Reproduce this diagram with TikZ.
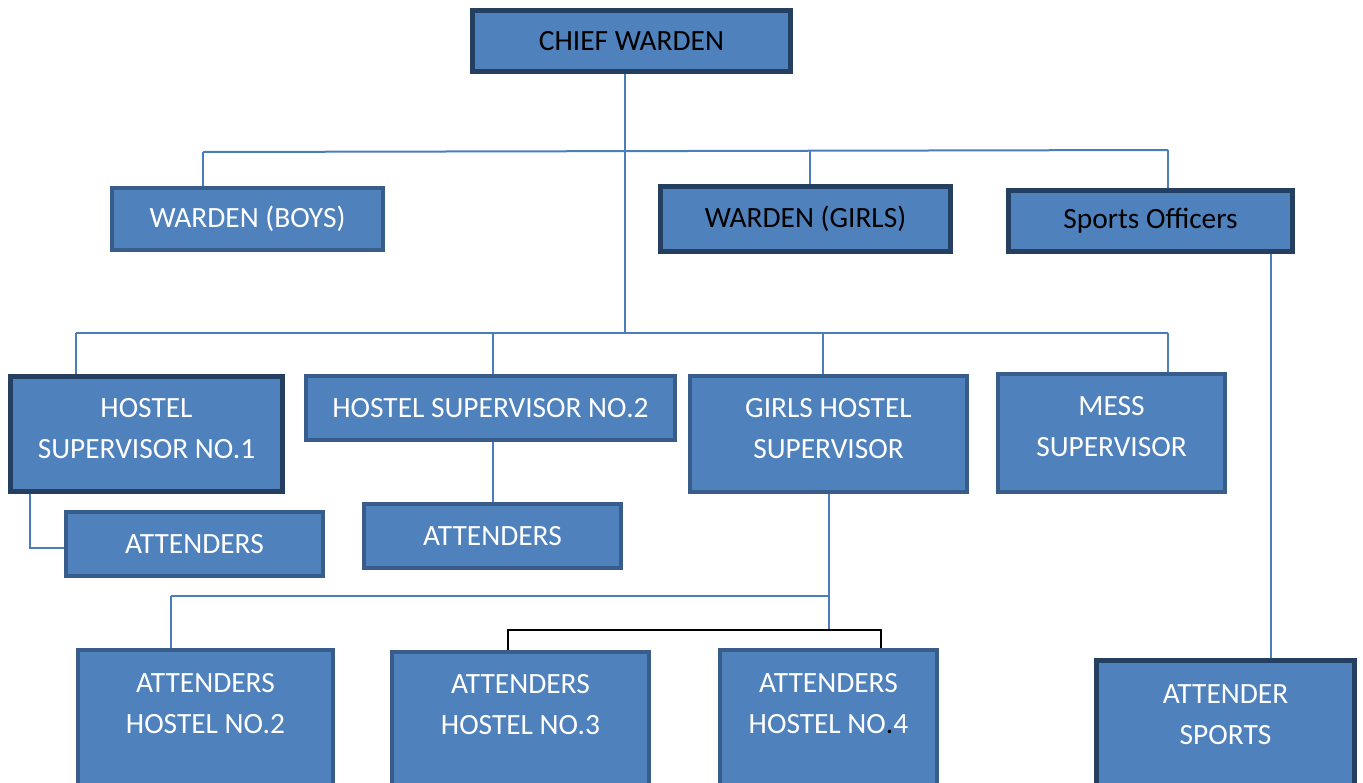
\documentclass[tikz,border=0pt]{standalone}
\usepackage{fontspec}
\setmainfont{Carlito}
\usepackage{tikz}
\usetikzlibrary{positioning}

\definecolor{boxfill}{HTML}{4F81BD}
\definecolor{darkedge}{HTML}{243F60}
\definecolor{midedge}{HTML}{385D8A}
\definecolor{linkblue}{HTML}{4A7EBB}

\begin{document}
\begin{tikzpicture}[x=1pt,y=-1pt]
\tikzstyle{post}=[rectangle, fill=boxfill, align=center, text=white,
  font=\fontsize{29.4}{41}\selectfont, inner sep=0pt]
\tikzstyle{heavy}=[post, draw=darkedge, line width=5pt]
\tikzstyle{light}=[post, draw=midedge, line width=4pt]
\tikzstyle{link}=[draw=linkblue, line width=2pt]
\tikzstyle{blacklink}=[draw=black, line width=2pt]
\path[use as bounding box] (0,0) rectangle (1363,782);
\clip (0,0) rectangle (1363,782);

% top
\node[heavy, text=black, minimum width=318pt, minimum height=61pt] (chief) at (631.5,41) {CHIEF WARDEN};

% wardens
\node[light, minimum width=271pt, minimum height=62pt] (boys) at (247.5,219) {WARDEN (BOYS)};
\node[heavy, text=black, minimum width=290pt, minimum height=65pt] (girls) at (805.5,219) {WARDEN (GIRLS)};
\node[heavy, text=black, minimum width=284pt, minimum height=61pt] (sports) at (1150.5,221) {Sports Officers};

% supervisors
\node[heavy, minimum width=272pt, minimum height=115pt, text depth=12pt] (hs1) at (146.5,434) {HOSTEL\\SUPERVISOR NO.1};
\node[light, minimum width=369pt, minimum height=64pt] (hs2) at (490.5,408) {HOSTEL SUPERVISOR NO.2};
\node[light, minimum width=277pt, minimum height=116pt, text depth=12pt] (ghs) at (828.5,434) {GIRLS HOSTEL\\SUPERVISOR};
\node[light, minimum width=227pt, minimum height=118pt, text depth=14pt] (mess) at (1111.5,433) {MESS\\SUPERVISOR};

% attenders
\node[light, minimum width=257pt, minimum height=64pt] (att1) at (194.5,544) {ATTENDERS};
\node[light, minimum width=257pt, minimum height=64pt] (att2) at (492.5,536) {ATTENDERS};
\node[light, minimum width=255pt, minimum height=148pt, text depth=42pt] (ah2) at (205.5,724) {ATTENDERS\\HOSTEL NO.2};
\node[light, minimum width=257pt, minimum height=146pt, text depth=41pt] (ah3) at (520.5,725) {ATTENDERS\\HOSTEL NO.3};
\node[light, minimum width=217pt, minimum height=148pt, text depth=42pt] (ah4) at (828.5,724) {ATTENDERS\\HOSTEL NO\textcolor{black}{.}4};
\node[heavy, minimum width=258pt, minimum height=137pt, text depth=29pt] (asports) at (1225.5,729) {ATTENDER\\SPORTS};

% bus lines
\coordinate (topL) at (203,152);
\coordinate (topG) at (810,151);
\coordinate (topR) at (1168,150);
\coordinate (midL) at (76,333);
\coordinate (mid) at (625,333);
\coordinate (midR) at (1168,333);
\coordinate (lowL) at (171,596);
\coordinate (brL) at (508,630);
\coordinate (brR) at (881,630);

\draw[link] (chief.south -| mid) -- (mid);
\draw[link] (topL) -- (topR);
\draw[link] (topL) -- (topL |- boys.north);
\draw[link] (topG) -- (topG |- girls.north);
\draw[link] (topR) -- (topR |- sports.north);

\draw[link] (midL) -- (midR);
\draw[link] (midL) -- (midL |- hs1.north);
\draw[link] (mid -| att2.north) -- (hs2.north -| att2.north);
\draw[link] (mid -| 823,0) -- (ghs.north -| 823,0);
\draw[link] (midR) -- (midR |- mess.north);

\draw[link] ([xshift=22pt]hs1.south west) |- ([yshift=-4pt]att1.west);
\draw[link] (hs2.south -| att2.north) -- (att2.north);

\draw[link] (ghs.south) -- (ghs.south |- brL);
\draw[link] (lowL) -- (ghs.south |- lowL);
\draw[link] (lowL) -- (lowL |- ah2.north);
\draw[blacklink] (brL |- ah3.north) -- (brL) -- (brR) -- (brR |- ah4.north);

\draw[link] ([xshift=120pt]sports.south) -- ([xshift=120pt]sports.south |- asports.north);
\end{tikzpicture}
\end{document}
